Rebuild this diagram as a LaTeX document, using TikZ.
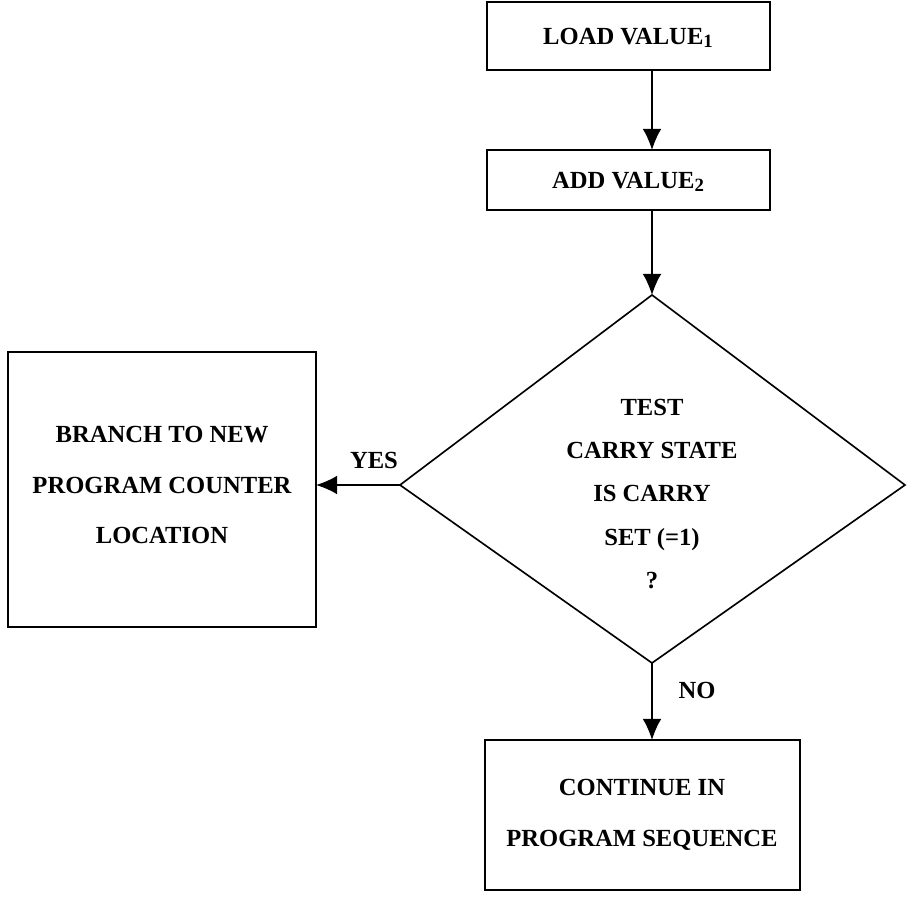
\documentclass[tikz,border=0pt]{standalone}
\usepackage{fontspec}
\setmainfont{Liberation Serif}
\usetikzlibrary{arrows.meta}
\begin{document}
\begin{tikzpicture}[x=0.03cm,y=-0.03cm,
 box/.style={draw,line width=1.4pt},
 lbl/.style={font=\fontsize{21}{24}\selectfont\bfseries,align=center},
 arr/.style={line width=1.4pt,-{Latex[length=18pt,width=16pt]}}]
\useasboundingbox (0,0) rectangle (912,898);
\draw[box] (487,2) rectangle (770,70);
\node[lbl] (load) at (628,38) {LOAD VALUE\raisebox{-3pt}{\fontsize{16}{16}\selectfont 1}};
\draw[box] (487,150) rectangle (770,210);
\node[lbl] (add) at (628,182) {ADD VALUE\raisebox{-3pt}{\fontsize{16}{16}\selectfont 2}};
\coordinate (l1) at (652,70); \coordinate (a1) at (652,150);
\coordinate (a2) at (652,210);
\draw[line width=1.4pt] (652,295) coordinate (dt) -- (905,485) coordinate (dr) -- (652,663) coordinate (db) -- (400,485) coordinate (dl) -- cycle;
\node[lbl,font=\fontsize{21}{37}\selectfont\bfseries] (test) at (652,494) {TEST\\CARRY STATE\\IS CARRY\\SET (=1)\\?};
\draw[box] (8,352) rectangle (316,627);
\coordinate (br) at (316,485);
\node[lbl,font=\fontsize{21}{43}\selectfont\bfseries] (branch) at (162,485) {BRANCH TO NEW\\PROGRAM COUNTER\\LOCATION};
\draw[box] (485,740) rectangle (800,890);
\coordinate (ct) at (652,740);
\node[lbl,font=\fontsize{21}{43}\selectfont\bfseries] (cont) at (642,815) {CONTINUE IN\\PROGRAM SEQUENCE};
\draw[arr] (l1) -- (a1);
\draw[arr] (a2) -- (dt);
\draw[arr] (dl) -- (br);
\draw[arr] (db) -- (ct);
\node[lbl] (yes) at (374,460) {YES};
\node[lbl] (no) at (697,690) {NO};
\end{tikzpicture}
\end{document}
